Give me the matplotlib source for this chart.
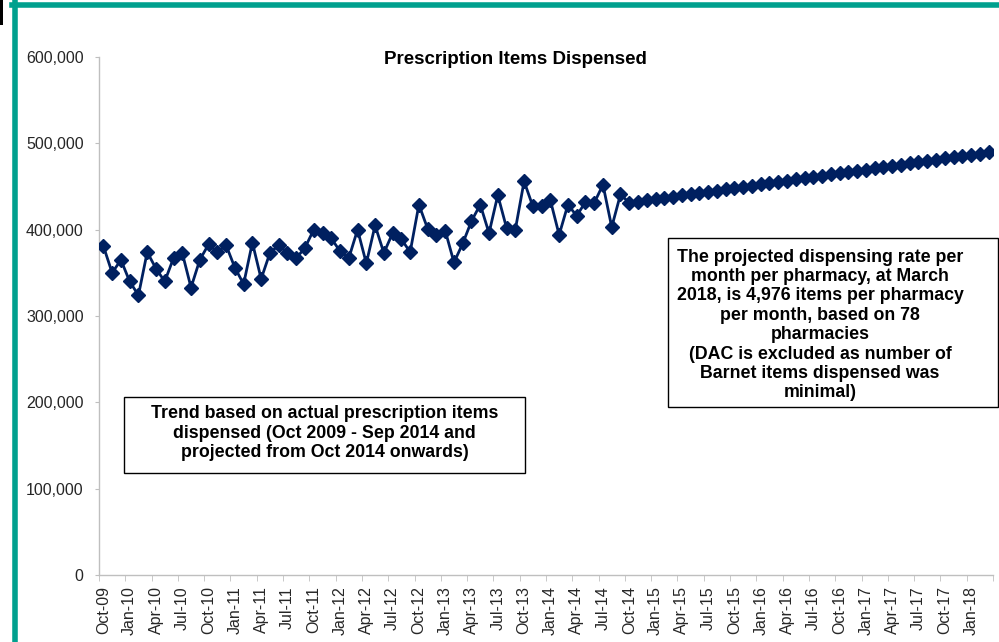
import matplotlib
matplotlib.use("Agg")
import matplotlib.pyplot as plt
from matplotlib.patches import Rectangle
from matplotlib.lines import Line2D
from matplotlib.ticker import FuncFormatter, FixedLocator

plt.rcParams['font.family'] = ['Liberation Sans', 'DejaVu Sans']

# Monthly categories Oct-09 .. Mar-18
months = ['Jan', 'Feb', 'Mar', 'Apr', 'May', 'Jun', 'Jul', 'Aug', 'Sep', 'Oct', 'Nov', 'Dec']
categories = []
y, m = 2009, 9
while (y, m) <= (2018, 2):
    categories.append(f"{months[m]}-{y % 100:02d}")
    m += 1
    if m == 12:
        m, y = 0, y + 1

# Actual items dispensed Oct 2009 - Sep 2014
actual = [381000, 350000, 365000, 340000, 324000, 374000, 355000, 340000, 367000, 373000,
          333000, 365000, 383000, 374000, 382000, 356000, 337000, 385000, 343000, 373000,
          382000, 373000, 367000, 379000, 400000, 396000, 390000, 375000, 367000, 400000,
          361000, 405000, 373000, 396000, 389000, 374000, 429000, 401000, 394000, 399000,
          362000, 384000, 410000, 429000, 396000, 440000, 402000, 400000, 456000, 427000,
          427000, 434000, 394000, 429000, 416000, 432000, 431000, 452000, 403000, 441000]

# Projected items Oct 2014 - Mar 2018
projected = [431000, 432400, 433900, 435300, 436700, 438200, 439600, 441000, 442400, 443900,
             445300, 446700, 448200, 449600, 451000, 452500, 453900, 455300, 456700, 458200,
             459600, 461000, 462500, 463900, 465300, 466800, 468200, 469600, 471000, 472500,
             473900, 475300, 476800, 478200, 479600, 481100, 482500, 483900, 485300, 486800,
             488200, 489600]

values = actual + projected

title = "Prescription Items Dispensed"
left_note = ("Trend based on actual prescription items\n"
             "dispensed (Oct 2009 - Sep 2014 and\n"
             "projected from Oct 2014 onwards)")
right_note = ("The projected dispensing rate per\n"
              "month per pharmacy, at March\n"
              "2018, is 4,976 items per pharmacy\n"
              "per month, based on 78\n"
              "pharmacies\n"
              "(DAC is excluded as number of\n"
              "Barnet items dispensed was\n"
              "minimal)")

W, H = 999, 642
fig = plt.figure(figsize=(W / 100, H / 100), dpi=100)
ax = fig.add_axes([99 / W, 1 - 575 / H, (993 - 99) / W, (575 - 57) / H])

navy = '#002060'
text_c = '#262626'
spine_c = '#BFBFBF'

x = list(range(len(values)))
ax.plot(x, values, color=navy, lw=2.0, marker='D', ms=7.0, mec=navy, mfc=navy, zorder=3)

ax.set_xlim(-0.5, len(values) - 0.5)
ax.set_ylim(0, 600000)
ax.set_yticks(range(0, 600001, 100000))
ax.yaxis.set_major_formatter(FuncFormatter(lambda v, p: f"{int(v):,}"))

lab_pos = list(range(0, len(values), 3))
ax.xaxis.set_major_locator(FixedLocator(lab_pos))
ax.set_xticklabels([categories[i] for i in lab_pos], rotation=90)
ax.xaxis.set_minor_locator(FixedLocator([p - 0.5 for p in range(0, len(values) + 1, 3)]))

for s in ['top', 'right']:
    ax.spines[s].set_visible(False)
for s in ['left', 'bottom']:
    ax.spines[s].set_color(spine_c)
    ax.spines[s].set_linewidth(1.0)

ax.tick_params(axis='y', which='major', length=3, color=spine_c, labelsize=11.5,
               labelcolor=text_c, pad=8)
ax.tick_params(axis='x', which='major', length=0, labelsize=11.5, labelcolor=text_c, pad=8)
ax.tick_params(axis='x', which='minor', length=4, color=spine_c)

fig.text(515 / W, 1 - 59 / H, title, ha='center', va='center', fontsize=13.5,
         fontweight='bold', color='black')

# Text boxes
def note(x0, y0, x1, y1, cx, cy, txt, ls):
    fig.patches.append(Rectangle((x0 / W, 1 - y1 / H), (x1 - x0) / W, (y1 - y0) / H,
                                 transform=fig.transFigure, fill=True, fc='white',
                                 ec='black', lw=1.0, zorder=5))
    fig.text(cx / W, 1 - cy / H, txt, ha='center', va='center',
             fontsize=12.8, fontweight='bold', color='black', linespacing=ls, zorder=6)

note(124, 397, 525, 473, 324.5, 433, left_note, 1.22)
note(668, 238, 998, 407, 820, 325, right_note, 1.18)

# Teal frame
teal = '#00A08E'
fig.lines.append(Line2D([14.5 / W, 14.5 / W], [0, 1 - 2 / H], transform=fig.transFigure,
                        color=teal, lw=4.0))
fig.lines.append(Line2D([12 / W, 1], [1 - 4.5 / H, 1 - 4.5 / H], transform=fig.transFigure,
                        color=teal, lw=4.0))
fig.patches.append(Rectangle((0, 1 - 25 / H), 3 / W, 25 / H, transform=fig.transFigure,
                             fc='black', ec='none'))

fig.savefig('out.png', dpi=100)
